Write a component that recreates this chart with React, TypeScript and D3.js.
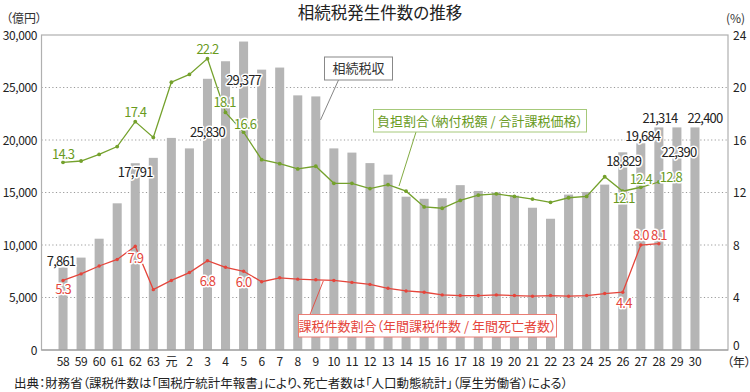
import React from 'react';
import * as d3 from 'd3';

// 年（昭和58〜平成30）
const categories = [
  '58', '59', '60', '61', '62', '63', '元', '2', '3', '4', '5', '6', '7', '8', '9', '10', '11', '12',
  '13', '14', '15', '16', '17', '18', '19', '20', '21', '22', '23', '24', '25', '26', '27', '28', '29', '30',
];

// 相続税収（億円）
const taxRevenue = [
  7861, 8800, 10600, 13970, 17791, 18300, 20200, 19200, 25830, 27500, 29377, 26700, 26900, 24250, 24150,
  19200, 18800, 17800, 16700, 14600, 14400, 14450, 15700, 15150, 15000, 14700, 13550, 12500, 14800, 15050,
  15750, 18829, 19684, 21200, 21200, 21200,
];

// 負担割合（%）昭和58〜平成28
const burdenRatio = [
  14.3, 14.4, 14.9, 15.5, 17.4, 16.2, 20.4, 21.0, 22.2, 18.1, 16.6, 14.5, 14.2, 13.8, 14.0, 12.7, 12.7,
  12.3, 12.6, 12.1, 10.9, 10.8, 11.4, 11.8, 11.9, 11.7, 11.5, 11.25, 11.6, 11.7, 13.2, 12.1, 12.4, 12.8,
];

// 課税件数割合（%）昭和58〜平成28
const taxedRatio = [
  5.3, 5.8, 6.4, 6.9, 7.9, 4.6, 5.3, 5.9, 6.8, 6.3, 6.0, 5.2, 5.5, 5.4, 5.35, 5.3, 5.15, 5.0, 4.7, 4.5,
  4.4, 4.2, 4.15, 4.15, 4.2, 4.15, 4.1, 4.15, 4.1, 4.15, 4.3, 4.4, 8.0, 8.1,
];

const leftTicks = [0, 5000, 10000, 15000, 20000, 25000, 30000];
const rightTicks = [0, 4, 8, 12, 16, 20, 24];

// labels: [category, text]
const revenueLabels = [
  ['58', '7,861'], ['62', '17,791'], ['3', '25,830'], ['5', '29,377'], ['26', '18,829'],
  ['27', '19,684'], ['28', '21,314'], ['29', '22,390'], ['30', '22,400'],
];
const burdenLabels = [
  ['58', '14.3'], ['62', '17.4'], ['3', '22.2'], ['4', '18.1'], ['5', '16.6'],
  ['26', '12.1'], ['27', '12.4'], ['28', '12.8'],
];
const taxedLabels = [
  ['58', '5.3'], ['62', '7.9'], ['3', '6.8'], ['5', '6.0'], ['26', '4.4'], ['27', '8.0'], ['28', '8.1'],
];

const title = '相続税発生件数の推移';
const source = '出典：財務省（課税件数は「国税庁統計年報書」により、死亡者数は「人口動態統計」（厚生労働省）による）';

// label offsets (layout only)
const revOff = { '58': [-2, -1.5], '62': [0, 14], '3': [0, 58], '5': [0, 43.5], '26': [1, 14], '27': [2, -2], '28': [1, -4], '29': [2, 30], '30': [10, -4] };
const burOff = { '58': [0, -3.5], '62': [0, -4.5], '3': [0, -4.5], '4': [-1, -5.5], '5': [1.5, -3.6], '26': [1, 12], '27': [0, -3.3], '28': [12, 0] };
const taxOff = { '58': [0, 13.6], '62': [0, 17], '3': [0, 25], '5': [0, 16], '26': [1, 16], '27': [0, -5], '28': [0, -3.7] };

const FONT = '"Noto Sans CJK JP", "Noto Sans", sans-serif';
const GREEN = '#74a12c';
const GREEN_TXT = '#6a9b1e';
const RED = '#e5453b';
const BAR = '#b5b5b5';

export default function App() {
  const left = 41.5, right = 728, top = 35, bottom = 350;

  const x = d3.scaleBand().domain(categories).range([54, 704]).paddingInner(0.5).paddingOuter(0.25);
  const cx = (c: string) => (x(c) as number) + x.bandwidth() / 2;
  const yL = d3.scaleLinear().domain([0, 30000]).range([bottom, top]);
  const yR = d3.scaleLinear().domain([0, 24]).range([bottom, top]);

  const lineGen = d3.line<number>()
    .x((_, i) => cx(categories[i]))
    .y(d => yR(d));

  const halo = { paintOrder: 'stroke', stroke: '#fff', strokeWidth: 3, strokeLinejoin: 'round' } as any;
  const numStyle = { fontSize: 13, letterSpacing: -0.8, fontFamily: FONT } as any;

  const revMap = new Map(categories.map((c, i) => [c, taxRevenue[i]]));
  const burMap = new Map(categories.map((c, i) => [c, burdenRatio[i]]));
  const taxMap = new Map(categories.map((c, i) => [c, taxedRatio[i]]));

  return (
    <svg width={750} height={392} style={{ position: 'absolute', left: 0, top: 0, fontFamily: FONT, fontFeatureSettings: '"palt"' }}>
      <rect width={750} height={392} fill="#fff" />
      <text x={380} y={19} textAnchor="middle" fontSize={16.5} fill="#222">{title}</text>
      <text x={6} y={23} fontSize={12} fill="#333">（億円）</text>
      <text x={726} y={23} fontSize={12} fill="#333">(%)</text>

      {/* grid */}
      {leftTicks.filter(t => t > 0 && t < 30000).map(t => (
        <line key={t} x1={left} x2={right} y1={yL(t)} y2={yL(t)} stroke="#9a9a9a" strokeWidth={1} strokeDasharray="1.2,2.4" />
      ))}

      {/* bars */}
      {categories.map((c, i) => (
        <rect key={c} x={x(c)} y={yL(taxRevenue[i])} width={x.bandwidth()} height={bottom - yL(taxRevenue[i])} fill={BAR} />
      ))}

      {/* frame */}
      <rect x={left} y={top} width={right - left} height={bottom - top} fill="none" stroke="#b0b0b0" strokeWidth={1.2} />
      <line x1={left} x2={right} y1={bottom} y2={bottom} stroke="#999" strokeWidth={1.2} />

      {/* left axis */}
      {leftTicks.map(t => (
        <text key={t} x={37} y={yL(t) + 4.5} textAnchor="end" fontSize={12} letterSpacing={-0.4} fill="#222">{d3.format(',')(t)}</text>
      ))}
      {/* right axis */}
      {rightTicks.map(t => (
        <text key={t} x={733} y={yR(t) + (t === 0 ? 0 : 4.5)} fontSize={12} fill="#222">{t}</text>
      ))}
      {/* x axis */}
      {categories.map(c => (
        <text key={c} x={cx(c)} y={366} textAnchor="middle" fontSize={12} letterSpacing={-0.3} fill="#222">{c}</text>
      ))}
      <text x={727} y={367} fontSize={12} fill="#222">（年）</text>

      {/* lines */}
      <path d={lineGen(burdenRatio) as string} fill="none" stroke={GREEN} strokeWidth={1.3} />
      {burdenRatio.map((v, i) => (
        <circle key={i} cx={cx(categories[i])} cy={yR(v)} r={1.9} fill={GREEN} />
      ))}
      <path d={lineGen(taxedRatio) as string} fill="none" stroke={RED} strokeWidth={1.3} />
      {taxedRatio.map((v, i) => (
        <circle key={i} cx={cx(categories[i])} cy={yR(v)} r={1.7} fill={RED} />
      ))}

      {/* callouts */}
      <line x1={338.5} y1={80} x2={320.5} y2={120} stroke="#777" strokeWidth={0.9} />
      <rect x={324.5} y={57} width={68} height={23} fill="#fff" stroke="#888" strokeWidth={1} />
      <text x={358.5} y={73} textAnchor="middle" fontSize={13} fill="#333">相続税収</text>

      <line x1={416} y1={132} x2={399} y2={186} stroke={GREEN} strokeWidth={0.9} />
      <rect x={373.5} y={109.5} width={213} height={22.5} fill="#fff" stroke="#a6c97a" strokeWidth={1} />
      <text x={480} y={125.5} textAnchor="middle" fontSize={13} fill={GREEN_TXT}>負担割合（納付税額 / 合計課税価格）</text>

      <line x1={310} y1={314.5} x2={323.3} y2={281} stroke={RED} strokeWidth={0.9} />
      <rect x={298.5} y={314.5} width={258} height={22.5} fill="#fff" stroke="#ea7d74" strokeWidth={1} />
      <text x={427.5} y={330.5} textAnchor="middle" fontSize={13} fill={RED}>課税件数割合（年間課税件数 / 年間死亡者数）</text>

      {/* value labels */}
      {revenueLabels.map(([c, t]) => {
        const o = (revOff as any)[c];
        return <text key={'r' + c} x={cx(c) + o[0]} y={yL(revMap.get(c) as number) + o[1]} textAnchor="middle" fill="#222" style={{ ...numStyle, ...halo }}>{t}</text>;
      })}
      {burdenLabels.map(([c, t]) => {
        const o = (burOff as any)[c];
        return <text key={'b' + c} x={cx(c) + o[0]} y={yR(burMap.get(c) as number) + o[1]} textAnchor="middle" fill={GREEN_TXT} style={{ ...numStyle, ...halo }}>{t}</text>;
      })}
      {taxedLabels.map(([c, t]) => {
        const o = (taxOff as any)[c];
        return <text key={'t' + c} x={cx(c) + o[0]} y={yR(taxMap.get(c) as number) + o[1]} textAnchor="middle" fill={RED} style={{ ...numStyle, ...halo }}>{t}</text>;
      })}

      <text x={14} y={388} fontSize={12.5} fill="#222">{source}</text>
    </svg>
  );
}
